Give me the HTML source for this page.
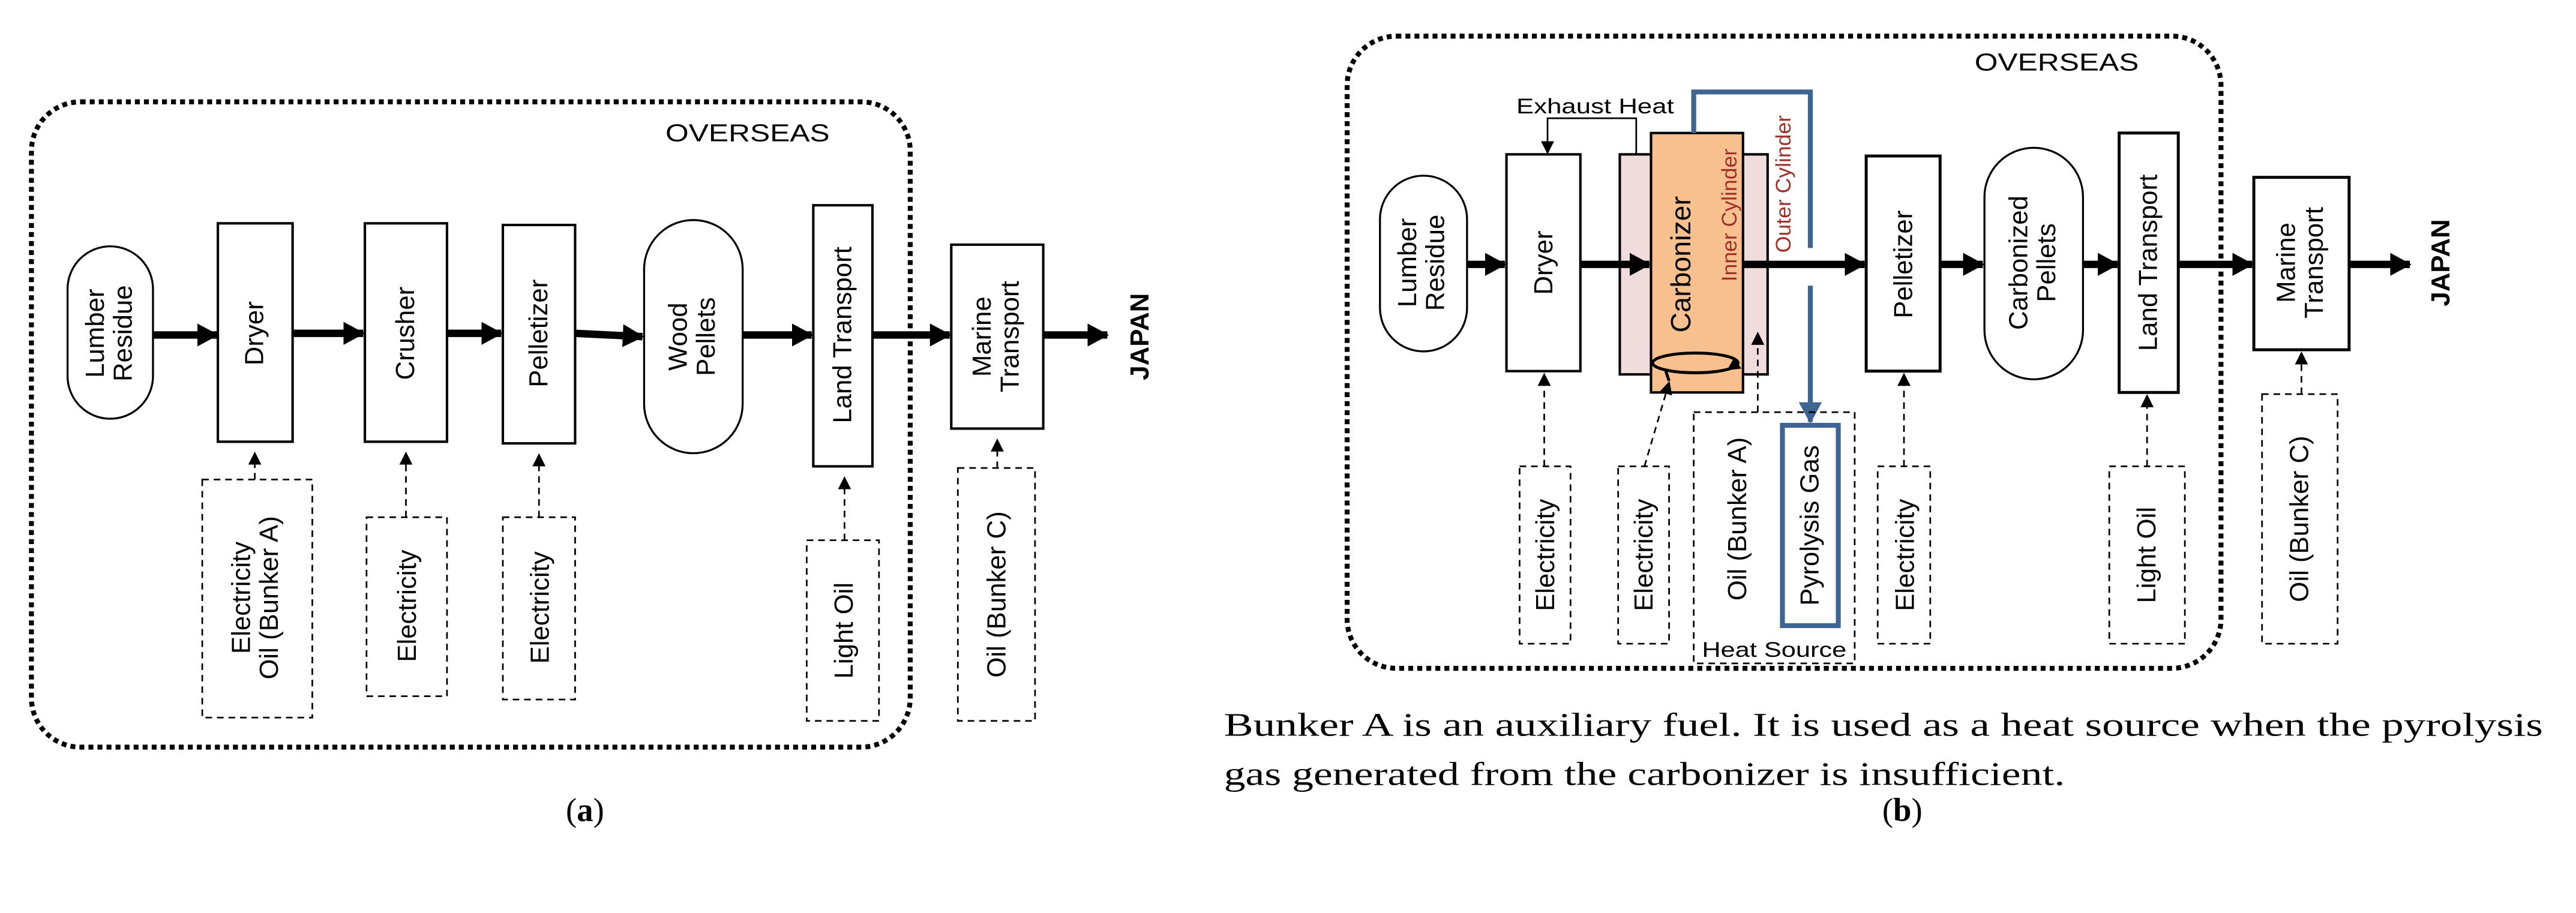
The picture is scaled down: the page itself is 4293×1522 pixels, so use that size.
<!DOCTYPE html>
<html><head><meta charset="utf-8"><style>
html,body{margin:0;padding:0;background:#fff;}
svg{display:block;}
text{font-family:"Liberation Sans",sans-serif;}
.s{font-family:"Liberation Serif",serif;}
</style></head><body>
<svg width="4293" height="1522" viewBox="0 0 1568 556" xmlns="http://www.w3.org/2000/svg">
<defs>
<marker id="ah" markerWidth="13" markerHeight="14" refX="12" refY="7" orient="auto" markerUnits="userSpaceOnUse"><path d="M0,0 L13,7 L0,14 z" fill="#000"/></marker>
<marker id="sa" markerWidth="8" markerHeight="8" refX="7" refY="4" orient="auto" markerUnits="userSpaceOnUse"><path d="M0,0 L8,4 L0,8 z" fill="#000"/></marker>
<marker id="ba" markerWidth="14" markerHeight="14" refX="12" refY="7" orient="auto" markerUnits="userSpaceOnUse"><path d="M0,0 L13,7 L0,14 z" fill="#3e6494"/></marker>
</defs>
<g fill="none" stroke="#000">
<!-- Panel A -->
<rect x="19" y="62" width="535" height="393" rx="30" stroke-width="3" stroke-dasharray="3,2.5"/>
<rect x="41" y="150" width="52" height="105" rx="26" stroke-width="1.2"/>
<rect x="132.5" y="136" width="45.5" height="133" stroke-width="1.5"/>
<rect x="222" y="136" width="50" height="133" stroke-width="1.5"/>
<rect x="306" y="137" width="44" height="133" stroke-width="1.5"/>
<rect x="392" y="134" width="60" height="142" rx="30" stroke-width="1.2"/>
<rect x="495" y="125" width="36" height="159" stroke-width="1.5"/>
<rect x="579" y="149" width="56" height="112" stroke-width="1.5"/>
<g stroke-width="4.5" marker-end="url(#ah)">
<line x1="93" y1="204" x2="132" y2="204"/>
<line x1="178" y1="203" x2="221" y2="203"/>
<line x1="272" y1="203" x2="305" y2="203"/>
<line x1="350" y1="203" x2="391" y2="205"/>
<line x1="452" y1="204" x2="494" y2="204"/>
<line x1="531" y1="204" x2="578" y2="204"/>
<line x1="635" y1="204" x2="674" y2="204"/>
</g>
<g stroke-width="1" stroke-dasharray="4,3">
<rect x="123" y="292" width="67" height="145"/>
<rect x="223" y="315" width="49" height="109"/>
<rect x="306" y="315" width="44" height="111"/>
<rect x="491" y="329" width="44" height="110"/>
<rect x="583" y="285" width="47" height="154"/>
<line x1="155" y1="292" x2="155" y2="276" marker-end="url(#sa)"/>
<line x1="247" y1="315" x2="247" y2="276" marker-end="url(#sa)"/>
<line x1="328" y1="315" x2="328" y2="277" marker-end="url(#sa)"/>
<line x1="514" y1="329" x2="514" y2="291" marker-end="url(#sa)"/>
<line x1="607" y1="285" x2="607" y2="268" marker-end="url(#sa)"/>
</g>
<!-- Panel B -->
<rect x="820" y="22" width="532" height="385" rx="30" stroke-width="3" stroke-dasharray="3,2.5"/>
<rect x="840" y="107" width="53" height="107" rx="26.5" stroke-width="1.2"/>
<rect x="917" y="94" width="45" height="132" stroke-width="1.5"/>
<rect x="986" y="94" width="90" height="134" fill="#f0dcdc" stroke-width="1.5"/>
<rect x="1005" y="81" width="56" height="158" fill="#f9c08f" stroke-width="1.5"/>
<rect x="1136" y="95" width="45" height="131" stroke-width="1.8"/>
<rect x="1208" y="90" width="60" height="141" rx="30" stroke-width="1.2"/>
<rect x="1290" y="81" width="36" height="158" stroke-width="1.8"/>
<rect x="1372" y="108" width="58" height="105" stroke-width="1.8"/>
<polyline points="996,94 996,72 942,72 942,93" stroke-width="1" marker-end="url(#sa)"/>
<g stroke-width="4.5" marker-end="url(#ah)">
<line x1="893" y1="161" x2="916" y2="161"/>
<line x1="962" y1="161" x2="1004" y2="161"/>
<line x1="1061" y1="161" x2="1135" y2="161"/>
<line x1="1181" y1="161" x2="1207" y2="161"/>
<line x1="1268" y1="161" x2="1289" y2="161"/>
<line x1="1326" y1="161" x2="1371" y2="161"/>
<line x1="1430" y1="161" x2="1467" y2="161"/>
</g>
<ellipse cx="1032" cy="221" rx="26" ry="6" stroke-width="1.8"/>
<path d="M1058,221 L1052,225" stroke-width="1.8" marker-end="url(#sa)"/>
<path d="M1014,226 L1016,232" stroke-width="1.8"/>
<g stroke="#3e6494" stroke-width="3">
<polyline points="1031,81 1031,56 1102,56 1102,151"/>
<line x1="1102" y1="174" x2="1102" y2="257" marker-end="url(#ba)"/>
<rect x="1085" y="259" width="34" height="122"/>
</g>
<g stroke-width="1" stroke-dasharray="4,3">
<rect x="925" y="284" width="31" height="108"/>
<rect x="985" y="284" width="31" height="108"/>
<rect x="1031" y="251" width="98" height="153"/>
<rect x="1143" y="284" width="32" height="108"/>
<rect x="1284" y="284" width="46" height="108"/>
<rect x="1377" y="240" width="46" height="152"/>
<line x1="940" y1="284" x2="940" y2="228" marker-end="url(#sa)"/>
<line x1="1001" y1="284" x2="1016" y2="233" marker-end="url(#sa)"/>
<line x1="1070" y1="251" x2="1070" y2="203" marker-end="url(#sa)"/>
<line x1="1159" y1="284" x2="1159" y2="228" marker-end="url(#sa)"/>
<line x1="1307" y1="284" x2="1307" y2="241" marker-end="url(#sa)"/>
<line x1="1401" y1="240" x2="1401" y2="215" marker-end="url(#sa)"/>
</g>
</g>
<g font-size="16" fill="#000" text-anchor="middle">
<text x="455" y="86" font-size="15" textLength="100" lengthAdjust="spacingAndGlyphs">OVERSEAS</text>
<text transform="translate(67,203) rotate(-90)"><tspan x="0" y="-4">Lumber</tspan><tspan x="0" y="13">Residue</tspan></text>
<text transform="translate(160,203) rotate(-90)">Dryer</text>
<text transform="translate(252,203) rotate(-90)">Crusher</text>
<text transform="translate(333,203) rotate(-90)">Pelletizer</text>
<text transform="translate(422,205) rotate(-90)"><tspan x="0" y="-4">Wood</tspan><tspan x="0" y="13">Pellets</tspan></text>
<text transform="translate(518,204) rotate(-90)">Land Transport</text>
<text transform="translate(607,205) rotate(-90)"><tspan x="0" y="-4">Marine</tspan><tspan x="0" y="13">Transport</tspan></text>
<text transform="translate(699,205) rotate(-90)" font-weight="bold">JAPAN</text>
<text transform="translate(156,364) rotate(-90)"><tspan x="0" y="-4">Electricity</tspan><tspan x="0" y="13">Oil (Bunker A)</tspan></text>
<text transform="translate(253,369) rotate(-90)">Electricity</text>
<text transform="translate(334,370) rotate(-90)">Electricity</text>
<text transform="translate(519,384) rotate(-90)">Light Oil</text>
<text transform="translate(612,362) rotate(-90)">Oil (Bunker C)</text>

<text x="1252" y="43" font-size="15" textLength="100" lengthAdjust="spacingAndGlyphs">OVERSEAS</text>
<text x="971" y="69" font-size="13" textLength="96" lengthAdjust="spacingAndGlyphs">Exhaust Heat</text>
<text transform="translate(866,160) rotate(-90)"><tspan x="0" y="-4">Lumber</tspan><tspan x="0" y="13">Residue</tspan></text>
<text transform="translate(945,160) rotate(-90)">Dryer</text>
<text transform="translate(1029,161) rotate(-90)" font-size="17">Carbonizer</text>
<text transform="translate(1057,131) rotate(-90)" font-size="13" fill="#a0302a">Inner Cylinder</text>
<text transform="translate(1090,112) rotate(-90)" font-size="13" fill="#a0302a">Outer Cylinder</text>
<text transform="translate(1164,161) rotate(-90)">Pelletizer</text>
<text transform="translate(1238,160) rotate(-90)"><tspan x="0" y="-4">Carbonized</tspan><tspan x="0" y="13">Pellets</tspan></text>
<text transform="translate(1313,160) rotate(-90)">Land Transport</text>
<text transform="translate(1401,160) rotate(-90)"><tspan x="0" y="-4">Marine</tspan><tspan x="0" y="13">Transport</tspan></text>
<text transform="translate(1491,160) rotate(-90)" font-weight="bold">JAPAN</text>
<text transform="translate(946,338) rotate(-90)">Electricity</text>
<text transform="translate(1006,338) rotate(-90)">Electricity</text>
<text transform="translate(1063,316) rotate(-90)">Oil (Bunker A)</text>
<text transform="translate(1107,320) rotate(-90)">Pyrolysis Gas</text>
<text transform="translate(1165,338) rotate(-90)">Electricity</text>
<text transform="translate(1312,338) rotate(-90)">Light Oil</text>
<text transform="translate(1405,316) rotate(-90)">Oil (Bunker C)</text>
<text x="1080" y="400" font-size="13" textLength="88" lengthAdjust="spacingAndGlyphs">Heat Source</text>
</g>
<g class="s" font-size="20" fill="#000">
<text class="s" x="745" y="448" textLength="803" lengthAdjust="spacingAndGlyphs">Bunker A is an auxiliary fuel. It is used as a heat source when the pyrolysis</text>
<text class="s" x="745" y="478" textLength="512" lengthAdjust="spacingAndGlyphs">gas generated from the carbonizer is insufficient.</text>
<text class="s" x="356" y="500" text-anchor="middle">(<tspan font-weight="bold">a</tspan>)</text>
<text class="s" x="1158" y="500" text-anchor="middle">(<tspan font-weight="bold">b</tspan>)</text>
</g>
</svg>
</body></html>
